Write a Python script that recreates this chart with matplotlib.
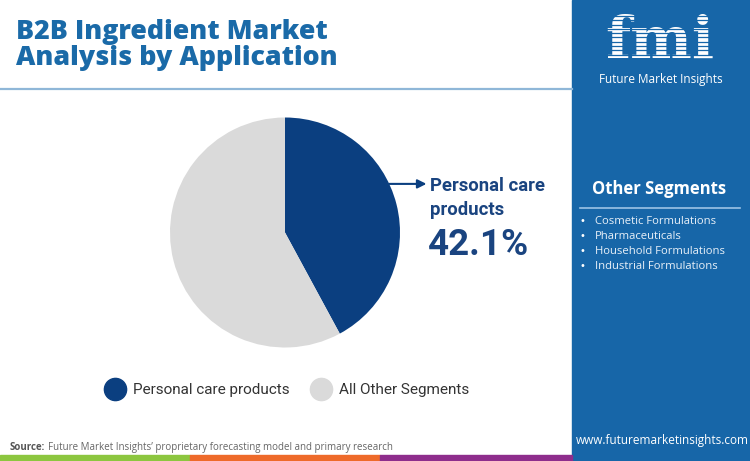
import numpy as np
import matplotlib.pyplot as plt
from matplotlib.patches import Rectangle
from matplotlib.lines import Line2D

# data
segments = ['Personal care products', 'All Other Segments']
shares = [42.1, 57.9]
seg_colors = ['#0b3f80', '#dadada']
other_segments = ['Cosmetic Formulations', 'Pharmaceuticals',
                  'Household Formulations', 'Industrial Formulations']

title = 'B2B Ingredient Market\nAnalysis by Application'
source = 'Future Market Insights\u2019 proprietary forecasting model and primary research'

W, H = 750, 461
panel = '#1766a8'
fig = plt.figure(figsize=(W / 100, H / 100), dpi=100)

# background layer in pixel coordinates
bg = fig.add_axes([0, 0, 1, 1])
bg.set_xlim(0, W)
bg.set_ylim(H, 0)
bg.axis('off')

# right blue panel
bg.add_patch(Rectangle((572, 0), W - 572, H, color=panel, zorder=0))
# bottom colour strip
for x0, x1, c in [(0, 190, '#8cc63f'), (190, 380, '#ee6a2a'), (380, 572, '#8e2d8c')]:
    bg.add_patch(Rectangle((x0, 455), x1 - x0, 6, color=c, zorder=1))

# title and rule
bg.text(16, 19, title, fontsize=19.3, fontweight='heavy', family='Open Sans',
        color='#1a6aa8', va='top', ha='left', linespacing=1.0)
bg.plot([0, 572], [89.5, 89.5], color='#8fb7d8', lw=1.6)

# logo
bg.text(660, 58, 'fmi', fontsize=42, fontweight='bold', family='DejaVu Serif',
        color='white', ha='center', va='baseline', zorder=2)
for y in np.arange(16, 60, 4.3):
    bg.plot([590, 730], [y, y], color=panel, lw=0.9, zorder=3)
bg.text(661, 79, 'Future Market Insights', fontsize=8.5, family='Open Sans',
        color='white', ha='center', va='center')

# other segments box
bg.text(659, 189, 'Other Segments', fontsize=12, fontweight='bold', family='Open Sans',
        color='white', ha='center', va='center')
bg.plot([580, 740], [208, 208], color='#9cc3e6', lw=1.2)
for i, name in enumerate(other_segments):
    y = 221 + i * 15
    bg.text(582, y, '\u2022', fontsize=7, color='white', ha='center', va='center')
    bg.text(595, y, name, fontsize=8.1, family='Open Sans', color='#e8f0f8',
            ha='left', va='center')

bg.text(662, 440, 'www.futuremarketinsights.com', fontsize=8.5, family='Open Sans',
        color='white', ha='center', va='center')

# source line
t_src = bg.text(10, 447, 'Source:', fontsize=7, fontweight='bold', family='Open Sans',
                color='#555555', ha='left', va='center')
bg.annotate(source, xy=(1, 0.5), xycoords=t_src, xytext=(2, 0),
            textcoords='offset points', fontsize=7, family='Open Sans',
            color='#666666', ha='left', va='center')

# pie
cx, cy, r = 285, 232.5, 115
ax = fig.add_axes([(cx - r) / W, (H - cy - r) / H, 2 * r / W, 2 * r / H])
wedges, _ = ax.pie(shares, colors=seg_colors, startangle=90, counterclock=False,
                   radius=1)
ax.set_xlim(-1, 1)
ax.set_ylim(-1, 1)
ax.set_aspect('equal')
ax.axis('off')

ang = np.deg2rad(25)
ax.annotate('', xy=(1.23, np.sin(ang)), xytext=(np.cos(ang), np.sin(ang)),
            annotation_clip=False,
            arrowprops=dict(arrowstyle='-|>', color='#0b3f80', lw=1.5,
                            mutation_scale=13, shrinkA=0, shrinkB=0))
bg.text(430, 198, 'Personal care\nproducts', fontsize=13.3, fontweight='bold',
        family='Roboto', color='#1a4480', ha='left', va='center', linespacing=1.4)
bg.text(428, 245, f'{shares[0]}%', fontsize=26.5, fontweight='bold',
        family='Roboto', color='#1a4480', ha='left', va='center')

# legend
handles = [Line2D([], [], marker='o', ls='', markersize=16, markerfacecolor=c,
                  markeredgecolor=c) for c in seg_colors]
fig.legend(handles, segments, loc='center left', bbox_to_anchor=(86 / W, 1 - 390 / H),
           ncol=2, frameon=False, handletextpad=0.15, columnspacing=1.1,
           prop={'family': 'Roboto', 'size': 11}, labelcolor='#333333')

fig.savefig('out.png', dpi=100)
